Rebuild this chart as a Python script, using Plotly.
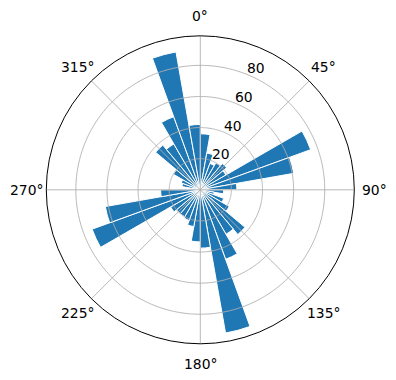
import numpy as np
import plotly.graph_objects as go

# bar centres (compass degrees, clockwise from north) and radial values
theta_deg = [5, 15, 25, 35, 45, 55, 65, 75, 85, 95, 105, 115,
             125, 135, 145, 155, 165, 175, 185, 195, 205, 215, 225, 235,
             245, 255, 265, 275, 285, 295, 305, 315, 325, 335, 345, 355]
radii = [36, 24, 18, 20, 22, 19, 75.5, 61, 23.5, 15, 9, 16,
         21.5, 37.5, 33, 47.5, 93.5, 37.5, 33.5, 24, 21, 20, 20, 22,
         74, 62, 25.5, 6, 12, 13, 20, 37.5, 34, 50, 90, 42]
bar_width = 10

r_ticks = [20, 40, 60, 80]
r_max = 99
theta_ticks = [0, 45, 90, 135, 180, 225, 270, 315]
theta_labels = [f"{t}°" for t in theta_ticks]
r_label_angle = 22.5

grid_color = "#b0b0b0"
bar_color = "#1f77b4"

fig = go.Figure()
fig.add_trace(go.Barpolar(
    r=radii, theta=theta_deg, width=[bar_width] * len(radii),
    marker=dict(color=bar_color, line=dict(color="white", width=1)),
    hoverinfo="skip",
))

# grid lines drawn above the bars (as in the reference)
circ = np.linspace(0, 360, 361)
for rv in r_ticks:
    fig.add_trace(go.Scatterpolar(r=[rv] * len(circ), theta=circ, mode="lines",
                                  line=dict(color=grid_color, width=0.9),
                                  hoverinfo="skip", showlegend=False))
for tv in theta_ticks:
    fig.add_trace(go.Scatterpolar(r=[0, r_max], theta=[tv, tv], mode="lines",
                                  line=dict(color=grid_color, width=0.9),
                                  hoverinfo="skip", showlegend=False))

W, H = 396, 380
cx, cy, R = 200.3, 189.8, 154.0
scale = R / r_max
font = dict(family="DejaVu Sans", size=13.9, color="black")

annotations = []
for t, lab in zip(theta_ticks, theta_labels):
    a = np.deg2rad(t)
    px = cx + (R + 20) * np.sin(a)
    py = cy - (R + 20) * np.cos(a)
    annotations.append(dict(x=px / W, y=1 - py / H, xref="paper", yref="paper",
                            text=lab, showarrow=False, font=font,
                            xanchor="center", yanchor="middle"))
a = np.deg2rad(r_label_angle)
for rv in r_ticks:
    px = cx + 8.4 + rv * scale * np.sin(a)
    py = cy - 6.8 - rv * scale * np.cos(a)
    annotations.append(dict(x=px / W, y=1 - py / H, xref="paper", yref="paper",
                            text=str(rv), showarrow=False, font=font,
                            xanchor="center", yanchor="middle"))

fig.update_layout(
    width=W, height=H,
    margin=dict(l=0, r=0, t=0, b=0),
    paper_bgcolor="white",
    showlegend=False,
    font=font,
    annotations=annotations,
    polar=dict(
        domain=dict(x=[(cx - R) / W, (cx + R) / W],
                    y=[1 - (cy + R) / H, 1 - (cy - R) / H]),
        bgcolor="white",
        bargap=0,
        angularaxis=dict(rotation=90, direction="clockwise",
                         tickmode="array", tickvals=theta_ticks, ticktext=theta_labels,
                         showticklabels=False,
                         showgrid=False, showline=True, linecolor="black", linewidth=1,
                         ticks=""),
        radialaxis=dict(range=[0, r_max], tickmode="array", tickvals=r_ticks,
                        showticklabels=False,
                        showgrid=False, showline=False, ticks=""),
    ),
)
fig.write_html("out.html")
